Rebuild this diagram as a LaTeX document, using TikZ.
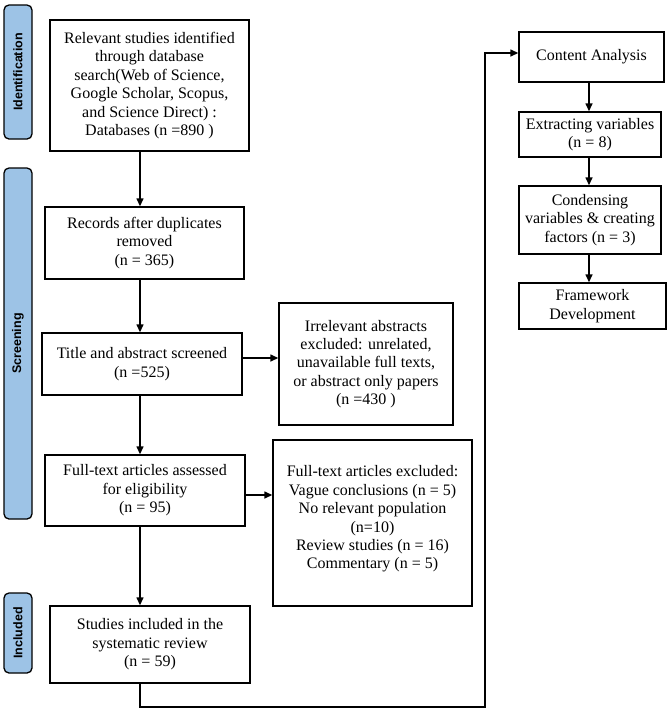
\documentclass[tikz,border=0pt]{standalone}
\usepackage{fontspec}
\setmainfont{Liberation Serif}
\newfontfamily\labelfont{Liberation Sans}
\usetikzlibrary{arrows.meta}
\definecolor{stageblue}{HTML}{9DC3E6}
\begin{document}
\begin{tikzpicture}[x=1pt,y=-1pt,
  box/.style={draw, line width=1.4pt, align=center, inner sep=2pt,
    font=\fontsize{16}{18.4}\selectfont},
  stage/.style={draw, line width=1.3pt, fill=stageblue, rounded corners=5pt,
    minimum width=28pt, inner sep=0pt},
  stagetext/.style={rotate=90, font=\labelfont\bfseries\fontsize{12.5}{14}\selectfont},
  flow/.style={line width=1.4pt, -{Triangle[length=8pt,width=7pt]}}]
\useasboundingbox (0,0) rectangle (669,710);

% stage labels
\node[stage, minimum height=134pt] (sid) at (18,72) {};
\node[stagetext] (tid) at (sid.center) {Identification};
\node[stage, minimum height=351pt] (ssc) at (18,343.5) {};
\node[stagetext] (tsc) at (ssc.center) {Screening};
\node[stage, minimum height=80pt] (sin) at (18,633) {};
\node[stagetext] (tin) at (sin.center) {Included};

% left column
\node[box, minimum width=199pt, minimum height=131pt] (b1) at (149.5,85.5)
  {Relevant studies identified\\through database\\search(Web of Science,\\Google Scholar, Scopus,\\and Science Direct) :\\Databases (n =890 )};
\node[box, minimum width=199pt, minimum height=72pt] (b2) at (144.5,243)
  {Records after duplicates\\removed\\(n = 365)};
\node[box, minimum width=200pt, minimum height=62pt] (b3) at (142,364)
  {Title and abstract screened\\(n =525)};
\node[box, minimum width=200pt, minimum height=71pt] (b4) at (145,490.5)
  {Full-text articles assessed\\for eligibility\\(n = 95)};
\node[box, minimum width=200pt, minimum height=77pt] (b5) at (150,644.5)
  {Studies included in the\\systematic review\\(n = 59)};

% exclusion boxes
\node[box, minimum width=174pt, minimum height=122pt] (irr) at (366,364)
  {Irrelevant abstracts\\excluded: unrelated,\\unavailable full texts,\\or abstract only papers\\(n =430 )};
\node[box, minimum width=199pt, minimum height=166pt] (fte) at (372.5,523)
  {Full-text articles excluded:\\Vague conclusions (n = 5)\\No relevant population\\(n=10)\\Review studies (n = 16)\\Commentary (n = 5)\\[-7pt]~};

% right column
\node[box, minimum width=145pt, minimum height=50pt] (ca) at (591.5,57)
  {Content Analysis};
\node[box, minimum width=142pt, minimum height=45pt] (ev) at (590,134.5)
  {Extracting variables\\(n = 8)};
\node[box, minimum width=142pt, minimum height=68pt] (cv) at (590,220)
  {Condensing\\variables \& creating\\factors (n = 3)};
\node[box, minimum width=147pt, minimum height=46pt] (fd) at (592.5,306)
  {Framework\\Development};

% helper coordinates
\coordinate (spine) at (140,0);
\coordinate (rspine) at (589,0);
\coordinate (h1) at (0,358);
\coordinate (h2) at (0,495);
\coordinate (turn) at (485,707);
\coordinate (cain) at (0,53);

% connectors
\draw[flow] (b1.south -| spine) -- (b2.north -| spine);
\draw[flow] (b2.south -| spine) -- (b3.north -| spine);
\draw[flow] (b3.south -| spine) -- (b4.north -| spine);
\draw[flow] (b4.south -| spine) -- (b5.north -| spine);
\draw[flow] (b3.east |- h1) -- (irr.west |- h1);
\draw[flow] (b4.east |- h2) -- (fte.west |- h2);
\draw[flow] (b5.south -| spine) |- (turn) |- (ca.west |- cain);
\draw[flow] (ca.south -| rspine) -- (ev.north -| rspine);
\draw[flow] (ev.south -| rspine) -- (cv.north -| rspine);
\draw[flow] (cv.south -| rspine) -- (fd.north -| rspine);
\end{tikzpicture}
\end{document}
